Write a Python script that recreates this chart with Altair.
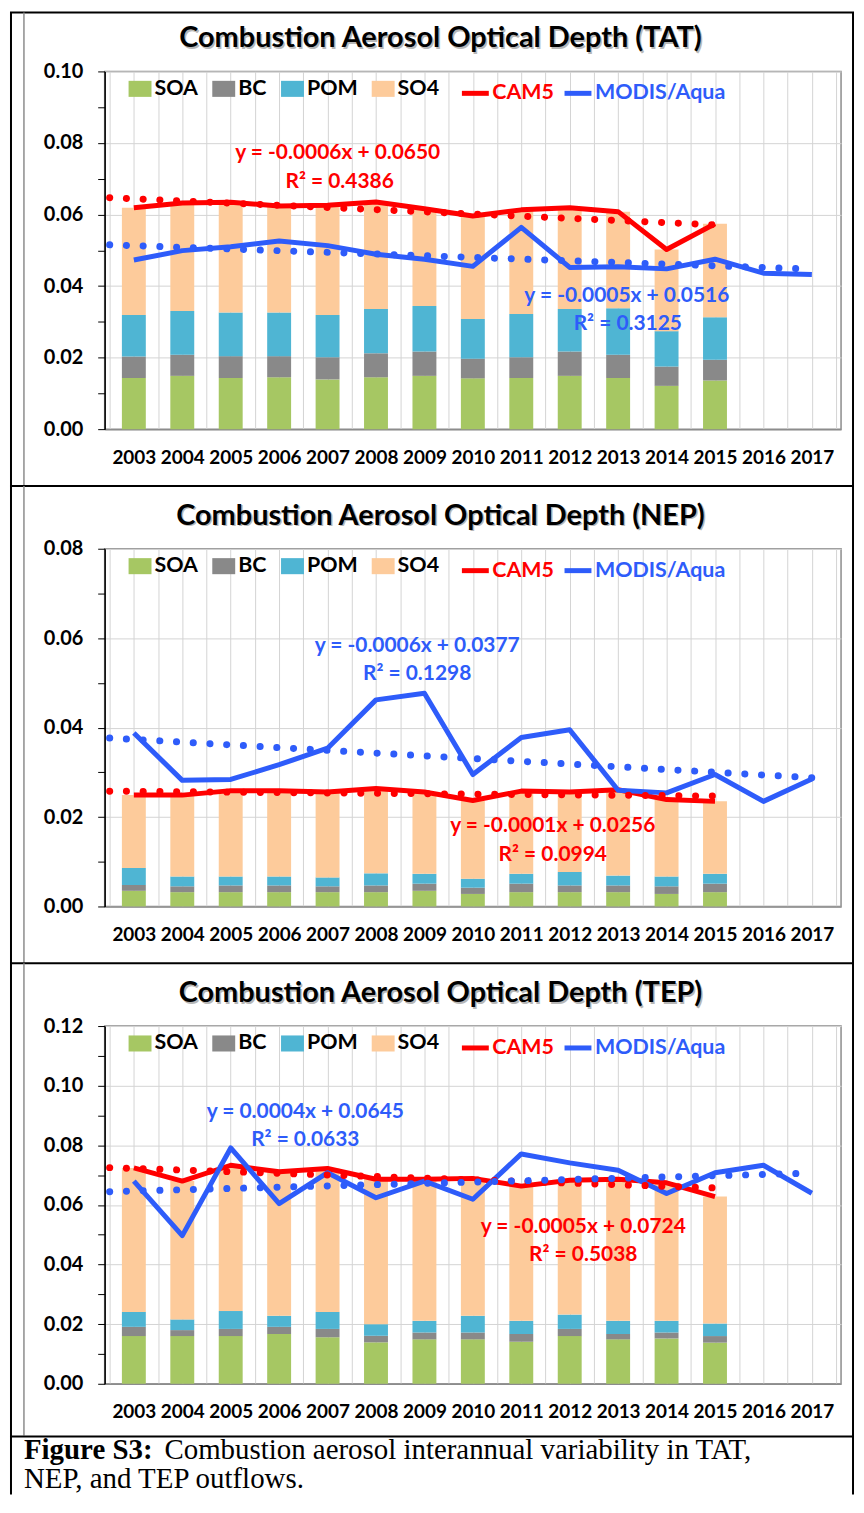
import altair as alt
import pandas as pd

# ---------------- data ----------------
BAR_YEARS = list(range(2003, 2016))
MODIS_YEARS = list(range(2003, 2018))
COMPONENTS = ["SOA", "BC", "POM", "SO4"]
REGIONS = ["TAT", "NEP", "TEP"]

TAT_SOA = [0.0143, 0.0149, 0.0143, 0.0145, 0.0139, 0.0145, 0.0149, 0.0142, 0.0143, 0.0149, 0.0143, 0.0121, 0.0136]
TAT_BC = [0.0060, 0.0059, 0.0061, 0.0059, 0.0062, 0.0067, 0.0068, 0.0055, 0.0058, 0.0068, 0.0065, 0.0054, 0.0058]
TAT_POM = [0.0116, 0.0122, 0.0122, 0.0122, 0.0118, 0.0124, 0.0127, 0.0111, 0.0121, 0.0119, 0.0130, 0.0099, 0.0119]
TAT_SO4 = [0.0300, 0.0302, 0.0308, 0.0298, 0.0307, 0.0299, 0.0272, 0.0288, 0.0291, 0.0283, 0.0270, 0.0228, 0.0261]
TAT_CAM5 = [0.0619, 0.0632, 0.0634, 0.0624, 0.0626, 0.0635, 0.0616, 0.0596, 0.0613, 0.0619, 0.0608, 0.0502, 0.0574]
TAT_MODIS = [0.0473, 0.0499, 0.0510, 0.0526, 0.0513, 0.0489, 0.0475, 0.0455, 0.0564, 0.0452, 0.0454, 0.0448, 0.0475, 0.0436, 0.0432]

NEP_SOA = [0.0035, 0.0032, 0.0032, 0.0032, 0.0032, 0.0032, 0.0035, 0.0028, 0.0032, 0.0032, 0.0032, 0.0028, 0.0032]
NEP_BC = [0.0013, 0.0013, 0.0015, 0.0015, 0.0013, 0.0015, 0.0016, 0.0014, 0.0019, 0.0015, 0.0015, 0.0017, 0.0019]
NEP_POM = [0.0038, 0.0022, 0.0020, 0.0020, 0.0020, 0.0027, 0.0022, 0.0020, 0.0022, 0.0030, 0.0022, 0.0022, 0.0022]
NEP_SO4 = [0.0163, 0.0182, 0.0192, 0.0192, 0.0191, 0.0190, 0.0183, 0.0175, 0.0185, 0.0179, 0.0192, 0.0172, 0.0162]
NEP_CAM5 = [0.0249, 0.0249, 0.0259, 0.0259, 0.0256, 0.0264, 0.0256, 0.0237, 0.0258, 0.0256, 0.0261, 0.0239, 0.0235]
NEP_MODIS = [0.0388, 0.0282, 0.0284, 0.0317, 0.0354, 0.0462, 0.0477, 0.0295, 0.0378, 0.0395, 0.0260, 0.0254, 0.0295, 0.0235, 0.0285]

TEP_SOA = [0.0160, 0.0160, 0.0160, 0.0167, 0.0156, 0.0139, 0.0149, 0.0149, 0.0141, 0.0160, 0.0149, 0.0152, 0.0138]
TEP_BC = [0.0031, 0.0020, 0.0024, 0.0024, 0.0028, 0.0022, 0.0023, 0.0023, 0.0026, 0.0024, 0.0018, 0.0020, 0.0022]
TEP_POM = [0.0050, 0.0036, 0.0060, 0.0037, 0.0057, 0.0039, 0.0039, 0.0056, 0.0044, 0.0048, 0.0044, 0.0039, 0.0042]
TEP_SO4 = [0.0483, 0.0464, 0.0489, 0.0483, 0.0481, 0.0486, 0.0475, 0.0461, 0.0452, 0.0451, 0.0475, 0.0463, 0.0426]
TEP_CAM5 = [0.0724, 0.0680, 0.0733, 0.0711, 0.0722, 0.0686, 0.0686, 0.0689, 0.0663, 0.0683, 0.0686, 0.0674, 0.0628]
TEP_MODIS = [0.0680, 0.0497, 0.0791, 0.0604, 0.0708, 0.0624, 0.0680, 0.0619, 0.0771, 0.0741, 0.0716, 0.0638, 0.0708, 0.0733, 0.0639]

Y_MAX = [0.10, 0.08, 0.12]

# trendline labels: CAM5 equation, CAM5 R², MODIS equation, MODIS R²
TAT_EQ = ["y = -0.0006x + 0.0650", "R² = 0.4386", "y = -0.0005x + 0.0516", "R² = 0.3125"]
NEP_EQ = ["y = -0.0001x + 0.0256", "R² = 0.0994", "y = -0.0006x + 0.0377", "R² = 0.1298"]
TEP_EQ = ["y = -0.0005x + 0.0724", "R² = 0.5038", "y = 0.0004x + 0.0645", "R² = 0.0633"]

TITLE_TEXT = "Combustion Aerosol Optical Depth ({})"
CAPTION_BOLD = "Figure S3:"
CAPTION_1 = "Combustion aerosol interannual variability in TAT,"
CAPTION_2 = "NEP, and TEP outflows."

# ---------------- layout / style ----------------
# label anchor positions (year, value) for the four trendline labels of each panel
EQ_POS = [
    [(2007.21, 0.0772), (2007.25, 0.0691), (2013.18, 0.0373), (2013.2, 0.0295)],
    [(2011.65, 0.0180), (2011.65, 0.0115), (2008.85, 0.0582), (2008.85, 0.0520)],
    [(2012.28, 0.0527), (2012.28, 0.0431), (2006.54, 0.0913), (2006.54, 0.0818)],
]
W, H = 739, 359
FONT = "Lato"
RED = "#FF0000"
BLUE = "#2E5CFA"
BAR_COLORS = ["#A6C763", "#898989", "#4FB5D3", "#FDCB9B"]
GRID = "#D4D4D4"

ONE = pd.DataFrame({"k": [0]})

# frame geometry, relative to each panel's plot origin
LEFT_X, INNER_X, RIGHT_X = -94, -81, 751


def rule(color, width, **enc):
    return alt.Chart(ONE).mark_rule(color=color, strokeWidth=width).encode(
        **{k: alt.value(v) for k, v in enc.items()})


def make_panel(i, soa, bc, pom, so4, cam5, modis, eqs, last):
    ymax = Y_MAX[i]
    rows = []
    for k, (comp, vals) in enumerate(zip(COMPONENTS, [soa, bc, pom, so4])):
        for yr, v in zip(BAR_YEARS, vals):
            rows.append({"year": yr, "value": v, "component": comp, "order": k})
    bars_df = pd.DataFrame(rows)
    cam_df = pd.DataFrame({"year": BAR_YEARS, "value": cam5, "series": "CAM5"})
    mod_df = pd.DataFrame({"year": MODIS_YEARS, "value": modis, "series": "MODIS/Aqua"})

    nmax = int(round(ymax * 100))
    xaxis = alt.Axis(
        values=[2002.5 + 0.5 * k for k in range(31)], grid=True, gridColor=GRID, gridWidth=1,
        ticks=False, domain=True, domainColor="#8c8c8c", domainWidth=1.5,
        labelExpr="datum.value % 1 == 0 ? format(datum.value, 'd') : ''",
        labelFont=FONT, labelFontSize=19, labelFontWeight="bold", labelColor="black",
        labelPadding=19, labelOverlap=False, labelFlush=False, title=None)
    yaxis = alt.Axis(
        values=[round(0.01 * k, 2) for k in range(nmax + 1)],
        labelExpr="round(datum.value*100) % 2 == 0 ? format(datum.value, '.2f') : ''",
        grid=True, gridColor=GRID, gridWidth=1,
        gridOpacity={"condition": {"test": "round(datum.value*100) % 2 == 0", "value": 1}, "value": 0},
        ticks=True, tickSize=7, tickColor="black", tickWidth=1,
        domain=True, domainColor="black", domainWidth=1.5,
        labelFont=FONT, labelFontSize=20, labelFontWeight="bold", labelColor="black",
        labelPadding=15, labelOverlap=False, labelFlush=False, title=None)
    xs = alt.Scale(domain=[2002.5, 2017.5], nice=False, zero=False)
    ys = alt.Scale(domain=[0, ymax], nice=False)
    X = alt.X("year:Q", scale=xs, axis=xaxis)
    Y = alt.Y("value:Q", scale=ys, axis=yaxis)

    bars = alt.Chart(bars_df).mark_bar(size=24).encode(
        x=X,
        y=alt.Y("value:Q", scale=ys, axis=yaxis, stack="zero"),
        color=alt.Color("component:N", scale=alt.Scale(domain=COMPONENTS, range=BAR_COLORS),
                        legend=alt.Legend(title=None, orient="none", legendX=24, legendY=6,
                                          direction="horizontal", symbolType="M-1,-0.7H1V0.7H-1Z",
                                          symbolSize=529, symbolStrokeWidth=0, labelFont=FONT,
                                          labelFontSize=21.5, labelFontWeight="bold", labelColor="black",
                                          labelOffset=3, columnPadding=14, padding=0)),
        order=alt.Order("order:Q"),
    )

    def line_legend(x, color):
        return alt.Legend(title=None, orient="none", legendX=x, legendY=6, symbolType="stroke",
                          symbolSize=729, symbolStrokeWidth=5, labelFont=FONT, labelFontSize=21.5,
                          labelFontWeight="bold", labelColor=color, labelOffset=1, padding=0)

    cam_line = alt.Chart(cam_df).mark_line(strokeWidth=5, strokeJoin="round").encode(
        x=X, y=Y,
        color=alt.Color("series:N", scale=alt.Scale(domain=["CAM5"], range=[RED]),
                        legend=line_legend(356, RED)))
    mod_line = alt.Chart(mod_df).mark_line(strokeWidth=5, strokeJoin="round").encode(
        x=X, y=Y,
        color=alt.Color("series:N", scale=alt.Scale(domain=["MODIS/Aqua"], range=[BLUE]),
                        legend=line_legend(459, BLUE)))

    dots = dict(strokeWidth=7, strokeDash=[0.1, 16.7], strokeCap="round")
    cam_trend = alt.Chart(cam_df).transform_regression(
        "year", "value", extent=[2002.5, BAR_YEARS[-1]]).mark_line(color=RED, **dots).encode(x=X, y=Y)
    mod_trend = alt.Chart(mod_df).transform_regression(
        "year", "value", extent=[2002.5, MODIS_YEARS[-1]]).mark_line(color=BLUE, **dots).encode(x=X, y=Y)

    pos = EQ_POS[i]
    red_df = pd.DataFrame({"year": [pos[0][0], pos[1][0]], "value": [pos[0][1], pos[1][1]], "label": eqs[:2]})
    blue_df = pd.DataFrame({"year": [pos[2][0], pos[3][0]], "value": [pos[2][1], pos[3][1]], "label": eqs[2:]})
    txt = dict(font=FONT, fontSize=21, fontWeight="bold", baseline="middle", align="center")
    red_txt = alt.Chart(red_df).mark_text(color=RED, **txt).encode(x=X, y=Y, text="label:N")
    blue_txt = alt.Chart(blue_df).mark_text(color=BLUE, **txt).encode(x=X, y=Y, text="label:N")

    title_df = pd.DataFrame({"t": [TITLE_TEXT.format(REGIONS[i])]})
    tstyle = dict(font=FONT, fontSize=29, fontWeight="bold", align="center", baseline="alphabetic")
    title_shadow = alt.Chart(title_df).mark_text(color="#9a9a9a", opacity=0.7, **tstyle).encode(
        text="t:N", x=alt.value(338.5), y=alt.value(-22.5))
    title = alt.Chart(title_df).mark_text(color="black", **tstyle).encode(
        text="t:N", x=alt.value(337), y=alt.value(-24))

    top = -59 if i == 0 else -63
    bottom = 470 if last else 416
    frame = [
        rule("black", 2, x=LEFT_X - 1, x2=RIGHT_X + 1, y=top),
        rule("black", 2, x=LEFT_X, y=top, y2=bottom),
        rule("black", 2, x=RIGHT_X, y=top, y2=bottom),
        rule("#8c8c8c", 1.5, x=INNER_X, y=top, y2=(411 if last else 415)),
    ]
    extra = []
    if last:
        frame.append(rule("black", 2, x=LEFT_X - 1, x2=RIGHT_X + 1, y=412))
        cap = pd.DataFrame({"b": [CAPTION_BOLD], "c1": [CAPTION_1], "c2": [CAPTION_2]})
        cs = dict(font="Liberation Serif", fontSize=29, align="left", baseline="alphabetic", color="black")
        extra = [
            alt.Chart(cap).mark_text(fontWeight="bold", **cs).encode(text="b:N", x=alt.value(-81), y=alt.value(434)),
            alt.Chart(cap).mark_text(**cs).encode(text="c1:N", x=alt.value(60), y=alt.value(434)),
            alt.Chart(cap).mark_text(**cs).encode(text="c2:N", x=alt.value(-81), y=alt.value(464)),
        ]

    layers = [bars, cam_line, mod_line, cam_trend, mod_trend, red_txt, blue_txt,
              title_shadow, title] + frame + extra
    return alt.layer(*layers).resolve_scale(color="independent").properties(width=W, height=H)


p1 = make_panel(0, TAT_SOA, TAT_BC, TAT_POM, TAT_SO4, TAT_CAM5, TAT_MODIS, TAT_EQ, False)
p2 = make_panel(1, NEP_SOA, NEP_BC, NEP_POM, NEP_SO4, NEP_CAM5, NEP_MODIS, NEP_EQ, False)
p3 = make_panel(2, TEP_SOA, TEP_BC, TEP_POM, TEP_SO4, TEP_CAM5, TEP_MODIS, TEP_EQ, True)

chart = alt.vconcat(p1, p2, p3, spacing=120, bounds="flush").properties(
    padding=0, background="white"
).configure_view(stroke="#8c8c8c", strokeWidth=1.5)

chart.save("out.html", embed_options={"renderer": "svg", "actions": False})
